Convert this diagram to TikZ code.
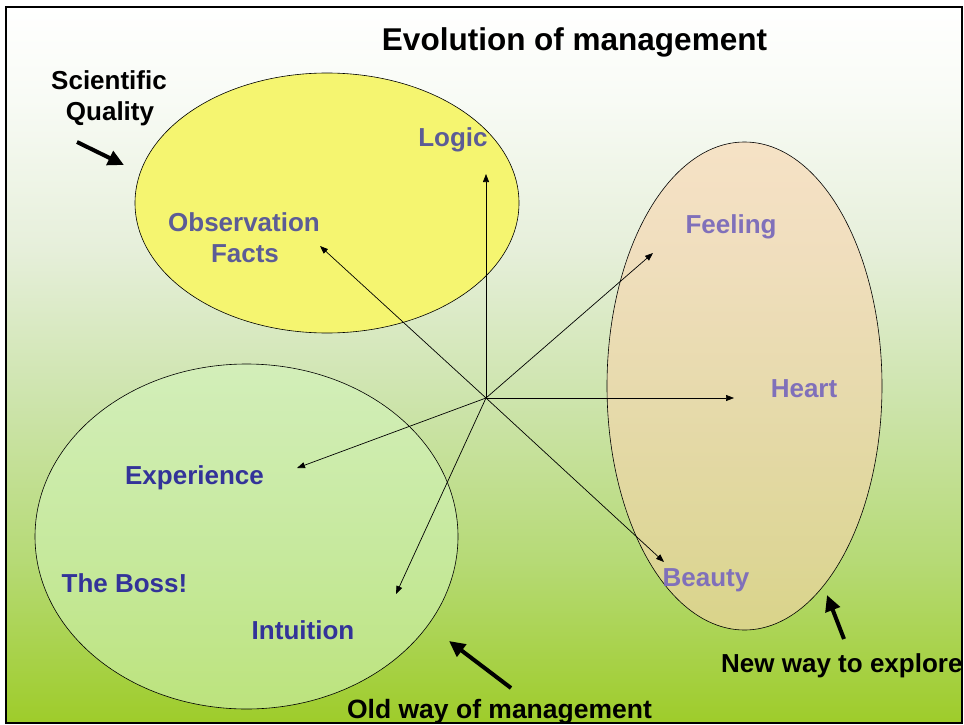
\documentclass[tikz,border=0pt]{standalone}
\usepackage{fontspec}
\setmainfont{Liberation Sans}
\usetikzlibrary{shapes.geometric, arrows.meta}
\definecolor{bgA}{RGB}{248,251,245}
\definecolor{bgB}{RGB}{230,239,218}
\definecolor{bgC}{RGB}{205,228,172}
\definecolor{bgD}{RGB}{182,218,118}
\definecolor{bgE}{RGB}{158,204,42}
\definecolor{lemon}{RGB}{245,245,112}
\definecolor{mint}{RGB}{212,246,188}
\definecolor{peach}{RGB}{248,212,172}
\definecolor{slate}{RGB}{92,92,150}
\definecolor{lilac}{RGB}{128,112,186}
\definecolor{navy}{RGB}{51,51,153}
\tikzset{
blob/.style={shape=ellipse, draw, inner sep=0, line width=0.6pt},
word/.style={inner sep=0, anchor=base, font=\fontsize{26}{26}\selectfont\bfseries},
logicword/.style={word, text=slate}, heartword/.style={word, text=lilac}, bossword/.style={word, text=navy},
spoke/.style={-{Triangle[length=8pt, width=6pt]}, line width=0.7pt},
pointer/.style={-{Triangle[length=16pt, width=15pt]}, line width=4pt}}
\begin{document}
\begin{tikzpicture}[x=1pt, y=-1pt]
\useasboundingbox (0,0) rectangle (964,725);
% background
\shade [top color=white, bottom color=bgA] (6,7) rectangle (962,100);
\shade [top color=bgA, bottom color=bgB] (6,100) rectangle (962,250);
\shade [top color=bgB, bottom color=bgC] (6,250) rectangle (962,400);
\shade [top color=bgC, bottom color=bgD] (6,400) rectangle (962,560);
\shade [top color=bgD, bottom color=bgE] (6,560) rectangle (962,723);
% the three fields
\node [blob, fill=lemon, minimum width=384pt, minimum height=260pt] (science) at (327,203) {};
\node [blob, fill=mint, fill opacity=0.55, minimum width=423pt, minimum height=345pt] (old) at (246.5,536.5) {};
\node [blob, fill=peach, fill opacity=0.6, minimum width=275pt, minimum height=488pt] (new) at (744.5,386) {};
% texts
\node [word] (title) at (574.5,51) {\fontsize{31.5}{32}\selectfont Evolution of management};
\node [word] (sci) at (109,89) {Scientific};
\node [word] (qual) at (110,120) {Quality};
\node [logicword] (logic) at (453,146) {Logic};
\node [logicword] (obs) at (244,231) {Observation};
\node [logicword] (facts) at (245,262) {Facts};
\node [heartword] (feeling) at (731,233) {Feeling};
\node [heartword] (heart) at (804,397) {Heart};
\node [heartword] (beauty) at (706,586) {Beauty};
\node [bossword] (exp) at (194.5,484) {Experience};
\node [bossword] (boss) at (124.5,592) {The Boss!};
\node [bossword] (intu) at (303,639) {Intuition};
\node [word] (oldway) at (499.5,718) {\fontsize{26.5}{27}\selectfont Old way of management};
\node [word, anchor=base west] (newway) at (721,672) {New way to explore};
% spokes
\coordinate (hub) at (486,398);
\coordinate (logic tip) at (486,174);
\coordinate (obs tip) at (320,246);
\coordinate (feeling tip) at (653,253);
\coordinate (heart tip) at (734,398);
\coordinate (beauty tip) at (664,562);
\coordinate (exp tip) at (297,468);
\coordinate (intu tip) at (396,594);
\foreach \t in {logic, obs, feeling, heart, beauty, exp, intu}
  \draw [spoke] (hub) -- (\t\space tip);
% pointers
\coordinate (sci tail) at (77,142);
\coordinate (sci head) at (124,165);
\coordinate (old tail) at (511,688);
\coordinate (old head) at (449,641);
\coordinate (new tail) at (844,639);
\coordinate (new head) at (827,595);
\draw [pointer] (sci tail) -- (sci head);
\draw [pointer] (old tail) -- (old head);
\draw [pointer] (new tail) -- (new head);
% frame
\draw [line width=1.5pt] (6,7) rectangle (962,723);
\end{tikzpicture}
\end{document}
